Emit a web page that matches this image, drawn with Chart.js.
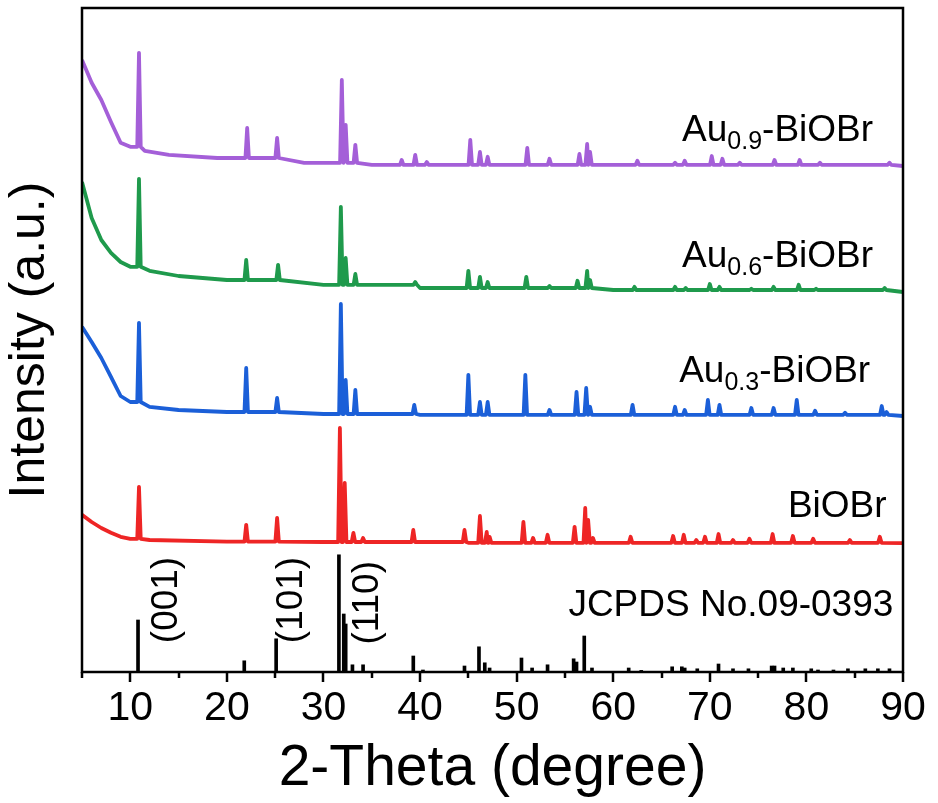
<!DOCTYPE html>
<html>
<head>
<meta charset="utf-8">
<title>XRD BiOBr</title>
<script src="https://cdn.jsdelivr.net/npm/chart.js@4"></script>
<style>
  html, body { margin: 0; padding: 0; background: #fff; }
  canvas { display: block; }
</style>
</head>
<body>
<canvas id="xrd" width="938" height="803"></canvas>
<script>
// 2-theta axis
const xMin = 5, xMax = 90;
const xTicks = [10, 20, 30, 40, 50, 60, 70, 80, 90];

// background knots [2theta, intensity] and peaks [2theta, top] per sample
const bgBiOBr = [[5, 9.3], [6, 7.5], [7, 6], [8, 4.8], [9, 3.8], [10, 3.3], [12, 3], [20, 2.6], [30, 2.5], [45, 2.3], [90, 2.2]];
const pkBiOBr = [[10.9, 16.3], [22.0, 6.8], [25.2, 8.5], [31.7, 31], [32.2, 17.3], [33.1, 4.8], [34.1, 3.5],
  [39.3, 5.5], [44.6, 5.5], [46.2, 9], [46.9, 5], [47.2, 3.8], [50.7, 7.5], [51.7, 3.5], [53.2, 4.3],
  [56.0, 6.3], [57.1, 11], [57.4, 8], [57.9, 3.5], [61.8, 3.8], [66.2, 4], [67.3, 4.3], [68.6, 3],
  [69.5, 3.8], [70.9, 4.5], [72.4, 3], [74.1, 3.3], [76.5, 4.5], [78.6, 4], [80.7, 3.3], [84.5, 3], [87.6, 3.8]];

const bgAu03 = [[5, 26.3], [6, 22.5], [7, 18.5], [8, 13.8], [9, 9], [10, 7.5], [12, 6.3], [15, 5.5], [20, 5], [30, 4.5], [40, 4.3], [90, 4]];
const pkAu03 = [[10.9, 27.3], [22.0, 16], [25.2, 8.5], [31.8, 32], [32.3, 13], [33.3, 10.5], [39.4, 6.8],
  [45.0, 14.3], [46.2, 7.5], [47.0, 7.5], [50.9, 14.3], [53.4, 5.5], [56.2, 10], [57.2, 11], [57.6, 6.3],
  [62.0, 6.8], [66.4, 6.3], [67.4, 5.5], [69.8, 8], [71.0, 6.8], [74.3, 6], [76.6, 6], [79.0, 8],
  [80.9, 5.3], [84.0, 4.8], [87.8, 6.5], [88.3, 5]];

const bgAu06 = [[5, 32.5], [6, 23.5], [7, 18], [8, 14.8], [9, 12.5], [10, 11.3], [12, 10.3], [15, 9], [20, 8], [30, 6.8], [40, 6], [60, 5.5], [90, 5]];
const pkAu06 = [[10.9, 33.3], [22.0, 13], [25.3, 11.8], [31.8, 26.3], [32.3, 13.5], [33.3, 9.5], [39.5, 7.5],
  [45.0, 10.3], [46.2, 8.8], [47.0, 7.5], [51.0, 8.8], [53.4, 6.5], [56.3, 7.8], [57.3, 10.3], [57.6, 8],
  [62.2, 6.3], [66.4, 6.3], [67.5, 6], [70.0, 7], [71.0, 6.3], [74.3, 5.8], [76.6, 6.3], [79.2, 6.8],
  [81.0, 5.8], [88.1, 6]];

const bgAu09 = [[5, 33], [6, 27.3], [7, 23], [8, 17.5], [9, 12.3], [10, 11.3], [11.5, 10.3], [14, 9.3], [19, 8.5], [28, 7.3], [35, 6.8], [90, 6.5]];
const pkAu09 = [[10.9, 34.8], [22.1, 16], [25.2, 13.5], [31.9, 28], [32.3, 16.8], [33.3, 11.8], [38.1, 8],
  [39.5, 9.3], [40.7, 7.5], [45.2, 13], [46.2, 10], [47.0, 8.8], [51.1, 11], [53.4, 8.3], [56.5, 9.5],
  [57.3, 12], [57.6, 10], [62.5, 7.8], [66.4, 7.3], [67.4, 7.8], [70.2, 9], [71.3, 8.3], [73.1, 7.3],
  [76.7, 8], [79.3, 8], [81.4, 7.3], [88.6, 7.3]];

// JCPDS No.09-0393 reference lines [2theta, relative intensity]
const refLines = [[10.8, 13], [21.8, 2.8], [25.1, 8.3], [31.6, 29.3], [32.1, 14.5], [32.3, 12], [33.0, 1.8],
  [34.1, 1.8], [39.3, 4], [40.3, 0.5], [44.6, 1.5], [46.1, 6.3], [46.7, 2.3], [47.2, 1], [50.5, 3.5],
  [51.6, 1], [53.2, 1.8], [55.9, 3.3], [56.2, 2.5], [57.0, 9], [57.8, 1], [61.6, 1], [62.9, 0.4],
  [66.1, 1.3], [67.1, 1.3], [67.4, 1], [68.7, 0.8], [70.9, 2], [72.4, 0.8], [74.0, 0.8], [76.4, 1.5],
  [76.7, 1.5], [77.6, 1], [78.6, 1], [80.5, 0.8], [81.2, 0.5], [82.8, 0.5], [84.3, 0.8], [86.1, 0.8],
  [87.4, 0.8], [88.6, 0.8]];

// vertical stacking of the patterns
const stackOffset = { ref: 0, BiOBr: 30, Au03: 60, Au06: 90, Au09: 120 };

const FONT = "'Liberation Sans', Arial, Helvetica, sans-serif";

// foot of a peak: level of the last background knot before it
function footAt(bg, x) {
  let y = bg[0][1];
  for (const [bx, by] of bg) if (bx <= x) y = by;
  return y;
}

function trace(bg, peaks, off) {
  const pts = bg.map(([x, y]) => ({ x, y }));
  peaks.forEach(([x, top]) => {
    const foot = footAt(bg, x);
    pts.push({ x: x - 0.18, y: foot }, { x, y: top }, { x: x + 0.18, y: foot });
  });
  pts.sort((a, b) => a.x - b.x);
  return pts.map(p => ({ x: p.x, y: p.y + off }));
}

function lineSet(label, data, color) {
  return {
    type: 'line', label, data, borderColor: color, borderWidth: 3.8,
    borderJoinStyle: 'round', pointRadius: 0, tension: 0, fill: false
  };
}

// frame and outward ticks (major every 10, minor every 5)
const framePlugin = {
  id: 'frame',
  afterDatasetsDraw(chart) {
    const { ctx, chartArea: a, scales: { x } } = chart;
    ctx.save();
    ctx.strokeStyle = '#000';
    ctx.lineWidth = 2.5;
    ctx.strokeRect(a.left, a.top, a.right - a.left, a.bottom - a.top);
    for (let v = xMin; v <= xMax; v += 5) {
      const px = Math.round(x.getPixelForValue(v));
      const len = v % 10 === 0 ? 10 : 6;
      ctx.beginPath();
      ctx.moveTo(px, a.bottom);
      ctx.lineTo(px, a.bottom + len);
      ctx.stroke();
    }
    ctx.restore();
  }
};

// sample names and hkl labels, placed in data coordinates
const sampleLabels = [
  { pre: 'Au', sub: '0.9', post: '-BiOBr', x: 86.9, y: 132.8 },
  { pre: 'Au', sub: '0.6', post: '-BiOBr', x: 86.9, y: 101.3 },
  { pre: 'Au', sub: '0.3', post: '-BiOBr', x: 86.6, y: 72.5 },
  { pre: 'BiOBr', sub: '', post: '', x: 88.3, y: 38.8 },
  { pre: 'JCPDS No.09-0393', sub: '', post: '', x: 89.0, y: 14 }
];
const hklLabels = [
  { text: '(001)', x: 13.8, y: 18 },
  { text: '(101)', x: 26.7, y: 18 },
  { text: '(110)', x: 34.6, y: 17.3 }
];

const labelPlugin = {
  id: 'labels',
  afterDraw(chart) {
    const { ctx, scales: { x, y } } = chart;
    const big = '37px ' + FONT, small = '25px ' + FONT;
    ctx.save();
    ctx.fillStyle = '#000';
    ctx.textBaseline = 'alphabetic';
    ctx.textAlign = 'left';
    sampleLabels.forEach(l => {
      ctx.font = big;
      const w1 = ctx.measureText(l.pre).width, w3 = ctx.measureText(l.post).width;
      ctx.font = small;
      const w2 = l.sub ? ctx.measureText(l.sub).width : 0;
      let px = x.getPixelForValue(l.x) - (w1 + w2 + w3);
      const py = y.getPixelForValue(l.y);
      ctx.font = big;
      ctx.fillText(l.pre, px, py);
      px += w1;
      if (l.sub) {
        ctx.font = small;
        ctx.fillText(l.sub, px, py + 8);
        px += w2;
      }
      ctx.font = big;
      if (l.post) ctx.fillText(l.post, px, py);
    });
    ctx.font = '37px ' + FONT;
    ctx.textAlign = 'center';
    ctx.textBaseline = 'middle';
    hklLabels.forEach(l => {
      ctx.save();
      ctx.translate(x.getPixelForValue(l.x), y.getPixelForValue(l.y));
      ctx.rotate(-Math.PI / 2);
      ctx.fillText(l.text, 0, 0);
      ctx.restore();
    });
    ctx.restore();
  }
};

const ctx = document.getElementById('xrd').getContext('2d');
new Chart(ctx, {
  type: 'line',
  data: {
    datasets: [
      {
        type: 'bar', label: 'JCPDS No.09-0393',
        data: refLines.map(([x, h]) => ({ x, y: h + stackOffset.ref })),
        backgroundColor: '#000', barThickness: 3, grouped: false
      },
      lineSet('BiOBr', trace(bgBiOBr, pkBiOBr, stackOffset.BiOBr), '#ee2525'),
      lineSet('Au0.3-BiOBr', trace(bgAu03, pkAu03, stackOffset.Au03), '#1b5fd8'),
      lineSet('Au0.6-BiOBr', trace(bgAu06, pkAu06, stackOffset.Au06), '#1f9a4c'),
      lineSet('Au0.9-BiOBr', trace(bgAu09, pkAu09, stackOffset.Au09), '#a45fd8')
    ]
  },
  options: {
    responsive: false,
    animation: false,
    devicePixelRatio: 1,
    layout: { padding: { top: 8, right: 35, left: 0, bottom: 0 } },
    plugins: { legend: { display: false }, tooltip: { enabled: false } },
    scales: {
      x: {
        type: 'linear', min: xMin, max: xMax, offset: false,
        afterBuildTicks(s) { s.ticks = xTicks.map(v => ({ value: v })); },
        afterFit(s) { s.height = 131; },
        grid: { display: false, drawTicks: false, offset: false },
        border: { display: false },
        ticks: { color: '#000', font: { family: FONT, size: 41 }, padding: 12, maxRotation: 0, autoSkip: false },
        title: { display: true, text: '2-Theta (degree)', color: '#000', font: { family: FONT, size: 57 }, padding: 0 }
      },
      y: {
        min: 0, max: 166,
        afterFit(s) { s.width = 82; },
        grid: { display: false, drawTicks: false },
        border: { display: false },
        ticks: { display: false },
        title: { display: true, text: 'Intensity (a.u.)', color: '#000', font: { family: FONT, size: 50 }, padding: 0 }
      }
    }
  },
  plugins: [framePlugin, labelPlugin]
});
</script>
</body>
</html>
